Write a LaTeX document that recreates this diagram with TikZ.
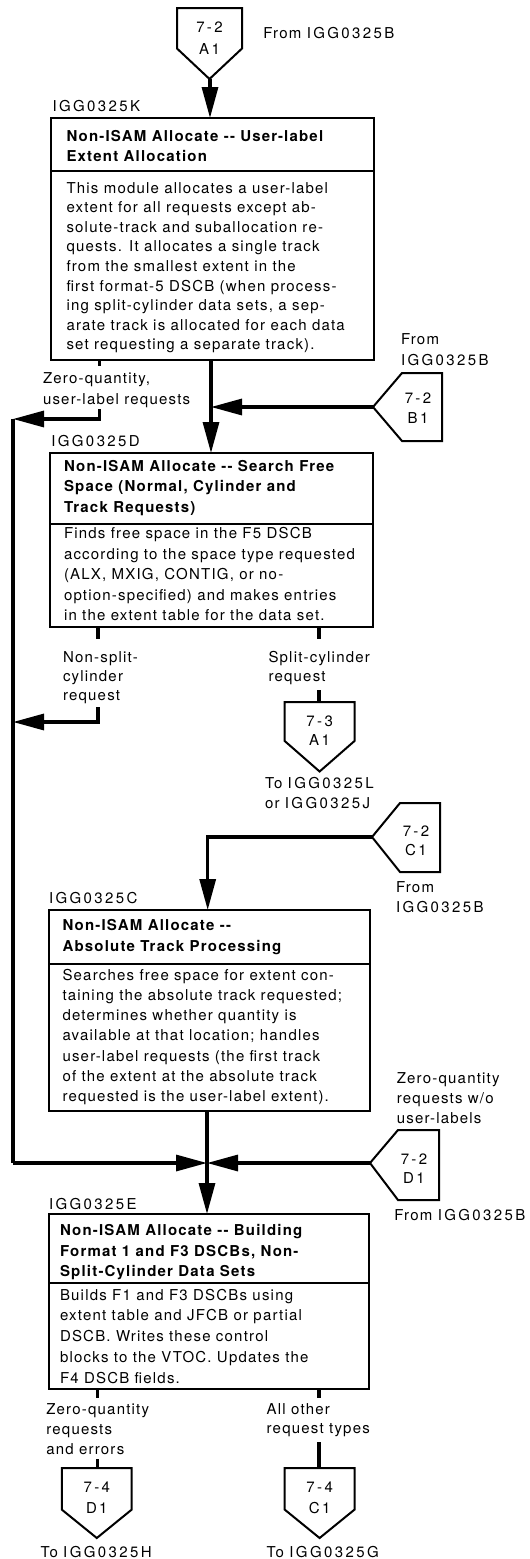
\documentclass[tikz,border=0pt]{standalone}
\usepackage{fontspec}
\setmainfont{TeX Gyre Heros}[LetterSpace=8]
\usetikzlibrary{arrows.meta}
\newcommand\idtxt[1]{{\addfontfeatures{LetterSpace=16}#1}}
\begin{document}
\begin{tikzpicture}[x=1pt,y=-1pt,
  every node/.style={inner sep=0pt, outer sep=0pt},
  txt/.style={anchor=base west, align=left, font=\fontsize{15}{20}\selectfont},
  ttl/.style={anchor=base west, align=left, font=\fontsize{15}{20.7}\selectfont\bfseries},
  ctxt/.style={anchor=base, align=center, font=\fontsize{15}{21}\selectfont},
  box/.style={draw, line width=2pt, anchor=north west},
  sep/.style={line width=2pt},
  flow/.style={line width=3.2pt},
  arr/.style={flow, -{Triangle[length=31pt,width=16pt]}},
  conn/.style={draw, line width=2pt, line join=miter}]
\useasboundingbox (0,0) rectangle (530,1559);

% ---------- off-page connectors (multi-line nodes are placed by their last baseline) ----------
% 7-2 A1 (top)
\draw[conn] (177,8) -- (242,8) -- (242,48.5) -- (209.5,79) -- (177,48.5) -- cycle;
\node[ctxt, font=\fontsize{15}{22.3}\selectfont] (a1) at (209.5,54.3) {\idtxt{7-2}\\\idtxt{A1}};
\coordinate (a1tip) at (210,79);
\node[txt] (froma1) at (263.4,38) {From \idtxt{IGG0325B}};

% 7-2 B1
\draw[conn] (373,407) -- (402,373) -- (442,373) -- (442,441) -- (402,441) -- cycle;
\node[ctxt, font=\fontsize{15}{20}\selectfont] (b1) at (418,423.3) {\idtxt{7-2}\\\idtxt{B1}};
\coordinate (b1tip) at (373,407);
\node[txt, font=\fontsize{15}{20.5}\selectfont] (fromb1) at (401,365) {From\\\idtxt{IGG0325B}};

% 7-3 A1
\draw[conn] (284.7,702) -- (354.5,702) -- (354.5,741) -- (319.6,771.5) -- (284.7,741) -- cycle;
\node[ctxt, font=\fontsize{15}{19.6}\selectfont] (a73) at (319.6,745.6) {\idtxt{7-3}\\\idtxt{A1}};
\coordinate (a73top) at (319,702);
\node[txt] (toa73) at (265,808) {To \idtxt{IGG0325L}\\or \idtxt{IGG0325J}};

% 7-2 C1
\draw[conn] (372,837) -- (400,803) -- (440,803) -- (440,872) -- (400,872) -- cycle;
\node[ctxt, font=\fontsize{15}{19}\selectfont] (c1) at (416,855) {\idtxt{7-2}\\\idtxt{C1}};
\coordinate (c1tip) at (372,837);
\node[txt] (fromc1) at (396,912.6) {From\\\idtxt{IGG0325B}};

% 7-2 D1
\draw[conn] (370,1163) -- (398,1130) -- (439,1130) -- (439,1200) -- (398,1200) -- cycle;
\node[ctxt, font=\fontsize{15}{18.5}\selectfont] (d1) at (414,1183.3) {\idtxt{7-2}\\\idtxt{D1}};
\coordinate (d1tip) at (370,1163);
\node[txt, font=\fontsize{15}{19.7}\selectfont] (zqd1) at (396.8,1123) {Zero-quantity\\requests w/o\\user-labels};
\node[txt] (fromd1) at (394.4,1220) {From \idtxt{IGG0325B}};

% 7-4 D1
\draw[conn] (61.8,1468) -- (131.7,1468) -- (131.7,1509.6) -- (96.8,1538) -- (61.8,1509.6) -- cycle;
\node[ctxt] (d74) at (96.8,1513) {\idtxt{7-4}\\\idtxt{D1}};
\coordinate (d74top) at (97.3,1468);
\node[txt] (tod74) at (40.5,1557) {To \idtxt{IGG0325H}};

% 7-4 C1
\draw[conn] (284.7,1468) -- (354.5,1468) -- (354.5,1509.6) -- (319.6,1538) -- (284.7,1509.6) -- cycle;
\node[ctxt] (c74) at (319.6,1513) {\idtxt{7-4}\\\idtxt{C1}};
\coordinate (c74top) at (319,1468);
\node[txt] (toc74) at (266.7,1557) {To \idtxt{IGG0325G}};

% ---------- process boxes ----------
% IGG0325K
\node[txt] (lk) at (52.5,111.5) {\idtxt{IGG0325K}};
\node[box, minimum width=322.5pt, minimum height=242pt] (k) at (51.3,118) {};
\draw[sep] (51.3,171) -- (373.8,171);
\node[ttl, font=\fontsize{15}{19.5}\selectfont\bfseries] (kt) at (66.5,161) {Non-ISAM Allocate -{}- User-label\\Extent Allocation};
\node[txt, font=\fontsize{15}{19.6}\selectfont] (kb) at (66.5,349.8) {This module allocates a user-label\\extent for all requests except ab-\\solute-track and suballocation re-\\quests. It allocates a single track\\from the smallest extent in the\\first format-5 DSCB (when process-\\ing split-cylinder data sets, a sep-\\arate track is allocated for each data\\set requesting a separate track).};

% IGG0325D
\node[txt] (ld) at (51.3,446) {\idtxt{IGG0325D}};
\node[box, minimum width=323pt, minimum height=174pt] (d) at (50,453) {};
\draw[sep] (50,523.5) -- (373,523.5);
\node[ttl] (dt) at (64,512.4) {Non-ISAM Allocate -{}- Search Free\\Space (Normal, Cylinder and\\Track Requests)};
\node[txt, font=\fontsize{15}{20.6}\selectfont] (db) at (64,620.9) {Finds free space in the F5 DSCB\\according to the space type requested\\(ALX, MXIG, CONTIG, or no-\\option-specified) and makes entries\\in the extent table for the data set.};

% IGG0325C
\node[txt] (lc) at (49,903.5) {\idtxt{IGG0325C}};
\node[box, minimum width=321.4pt, minimum height=200.6pt] (c) at (49,910) {};
\draw[sep] (49,963.6) -- (370.4,963.6);
\node[ttl, font=\fontsize{15}{21}\selectfont\bfseries] (ct) at (62.5,951.5) {Non-ISAM Allocate -{}-\\Absolute Track Processing};
\node[txt, font=\fontsize{15}{20.3}\selectfont] (cb) at (62.5,1101.8) {Searches free space for extent con-\\taining the absolute track requested;\\determines whether quantity is\\available at that location; handles\\user-label requests (the first track\\of the extent at the absolute track\\requested is the user-label extent).};

% IGG0325E
\node[txt] (le) at (49,1209) {\idtxt{IGG0325E}};
\node[box, minimum width=320pt, minimum height=174.7pt] (e) at (49,1214) {};
\draw[sep] (49,1283.4) -- (369,1283.4);
\node[ttl, font=\fontsize{15}{20.6}\selectfont\bfseries] (et) at (60,1276.8) {Non-ISAM Allocate -{}- Building\\Format 1 and F3 DSCBs, Non-\\Split-Cylinder Data Sets};
\node[txt, font=\fontsize{15}{20.75}\selectfont] (eb) at (60,1383) {Builds F1 and F3 DSCBs using\\extent table and JFCB or partial\\DSCB. Writes these control\\blocks to the VTOC. Updates the\\F4 DSCB fields.};

% ---------- branch labels ----------
\node[txt, font=\fontsize{15}{21.5}\selectfont] (zqk) at (43,404.5) {Zero-quantity,\\user-label requests};
\node[txt, font=\fontsize{15}{18.8}\selectfont] (nsd) at (63,700) {Non-split-\\cylinder\\request};
\node[txt, font=\fontsize{15}{18.8}\selectfont] (scd) at (268.5,681.3) {Split-cylinder\\request};
\node[txt, font=\fontsize{15}{20}\selectfont] (zqe) at (46.3,1454) {Zero-quantity\\requests\\and errors};
\node[txt, font=\fontsize{15}{19.6}\selectfont] (aoe) at (266.7,1433.6) {All other\\request types};

% ---------- junction and bend points ----------
\coordinate (jkd) at (211,407);
\coordinate (jce) at (207,1163);
\coordinate (lk1) at (99.6,409);
\coordinate (lk2) at (99.6,419);
\coordinate (ltop) at (13,419);
\coordinate (ld1) at (98,707);
\coordinate (ld2) at (98,722);
\coordinate (lmid) at (13,722);
\coordinate (lbot) at (13,1163);
\coordinate (c1bend) at (207.7,837);

% ---------- flow lines ----------
\draw[arr] (a1tip) -- (a1tip |- k.north);
\draw[flow] (jkd |- k.south) -- (jkd);
\draw[arr] (jkd) -- (jkd |- d.north);
\draw[arr] (b1tip) -- (jkd);
% zero-quantity user-label branch
\draw[flow] (lk2 |- k.south) -- ++(0,5.5);
\draw[arr, line join=miter] (lk1) -- (lk2) -- (ltop);
\draw[flow, line join=miter] (ltop) -- (lbot);
\draw[arr] (lbot) -- (jce);
% search free space exits
\draw[flow] (ld1 |- d.south) -- ++(0,12);
\draw[arr, line join=miter] (ld1) -- (ld2) -- (lmid);
\draw[flow] (a73top |- d.south) -- ++(0,12);
\draw[flow] (319,690) -- (a73top);
% C1 entry
\draw[arr, line join=miter] (c1tip) -- (c1bend) -- (c1bend |- c.north);
% C to E
\draw[flow] (jce |- c.south) -- (jce);
\draw[arr] (jce) -- (jce |- e.north);
\draw[arr] (d1tip) -- (jce);
% E exits
\draw[flow] (d74top |- e.south) -- ++(0,9.5);
\draw[flow] (97.3,1459) -- (d74top);
\draw[flow] (c74top |- e.south) -- ++(0,9.5);
\draw[flow] (319,1442) -- (c74top);
\end{tikzpicture}
\end{document}
